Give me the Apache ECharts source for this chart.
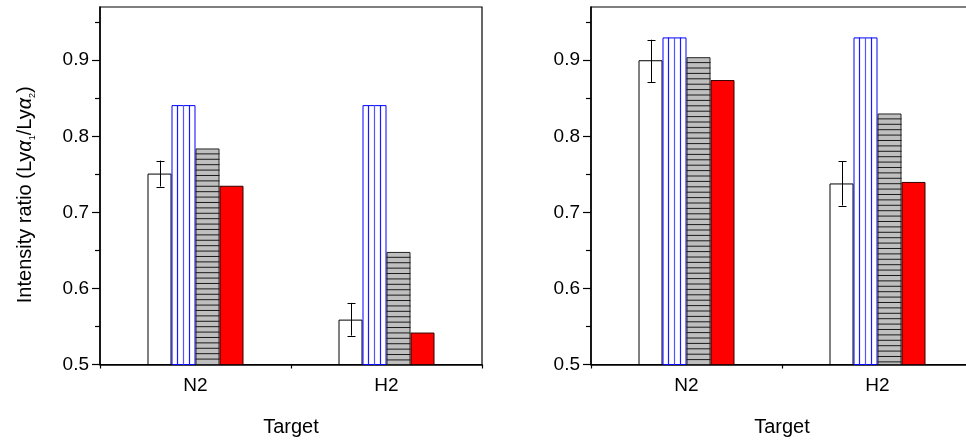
<!DOCTYPE html>
<html><head><meta charset="utf-8">
<script src="https://cdn.jsdelivr.net/npm/echarts@6/dist/echarts.min.js"></script>
<style>html,body{margin:0;padding:0;background:#fff}#c{width:966px;height:441px}</style>
</head><body><div id="c"></div>
<script>
const categories = ['N2', 'H2'];
const yMajorTicks = [0.5, 0.6, 0.7, 0.8, 0.9];
const yMinorTicks = [0.55, 0.65, 0.75, 0.85, 0.95];
const Y_MIN = 0.5, Y_MAX = 0.97;

const leftWhite = [0.751, 0.559];
const leftErrLow = [0.734, 0.538];
const leftErrHigh = [0.768, 0.581];
const leftBlue = [0.841, 0.841];
const leftGray = [0.784, 0.648];
const leftRed = [0.735, 0.542];

const rightWhite = [0.900, 0.738];
const rightErrLow = [0.871, 0.709];
const rightErrHigh = [0.927, 0.767];
const rightBlue = [0.930, 0.930];
const rightGray = [0.904, 0.830];
const rightRed = [0.874, 0.740];

const BAR_W = 24, CAP = 8, V_STEP = 6, H_STEP = 5.4;
const FONT = 'Liberation Sans, Arial, sans-serif';

function errRender(params, api) {
  const x = api.value(0);
  const lo = api.coord([x, api.value(1)]);
  const hi = api.coord([x, api.value(2)]);
  const cx = Math.round(lo[0] - 1.5 * BAR_W) + 0.5;
  const h = CAP / 2;
  const st = { stroke: '#000', lineWidth: 1 };
  return { type: 'group', children: [
    { type: 'line', shape: { x1: cx, y1: lo[1], x2: cx, y2: hi[1] }, style: st },
    { type: 'line', shape: { x1: cx - h, y1: Math.round(lo[1]) + 0.5, x2: cx + h, y2: Math.round(lo[1]) + 0.5 }, style: st },
    { type: 'line', shape: { x1: cx - h, y1: Math.round(hi[1]) + 0.5, x2: cx + h, y2: Math.round(hi[1]) + 0.5 }, style: st }
  ]};
}

// vertical hatch lines inside the blue bars (bar spans [center - BAR_W, center])
function vHatchRender(params, api) {
  const i = api.value(0);
  const base = api.coord([i, Y_MIN]);
  const top = api.coord([i, api.value(1)]);
  const left = base[0] - BAR_W;
  const children = [];
  for (let k = 1; k * V_STEP < BAR_W - 1; k++) {
    const x = left + k * V_STEP;
    children.push({ type: 'line', shape: { x1: x, y1: top[1], x2: x, y2: base[1] },
      style: { stroke: k % 2 ? '#1a1aff' : '#5555ff', lineWidth: 1.2 } });
  }
  return { type: 'group', children };
}
// horizontal hatch lines inside the gray bars (bar spans [center, center + BAR_W])
function hHatchRender(params, api) {
  const i = api.value(0);
  const base = api.coord([i, Y_MIN]);
  const top = api.coord([i, api.value(1)]);
  const left = base[0];
  const children = [];
  for (let y = top[1] + H_STEP; y < base[1] - 1; y += H_STEP) {
    children.push({ type: 'line', shape: { x1: left, y1: y, x2: left + BAR_W, y2: y },
      style: { stroke: '#1a1a1a', lineWidth: 1 } });
  }
  return { type: 'group', children };
}

function xAxes(gi) {
  return [
    { gridIndex: gi, type: 'category', data: categories, position: 'bottom',
      axisLine: { lineStyle: { color: '#000', width: 1.5 } },
      axisTick: { alignWithLabel: true, length: 8, lineStyle: { color: '#000', width: 1.2 } },
      axisLabel: { fontSize: 19, color: '#000', margin: 12, fontFamily: FONT },
      splitLine: { show: false },
      name: 'Target', nameLocation: 'middle', nameGap: 53,
      nameTextStyle: { fontSize: 20, color: '#000', fontFamily: FONT } },
    { gridIndex: gi, type: 'category', data: categories, position: 'bottom',
      axisLine: { show: false },
      axisTick: { show: true, length: 4, lineStyle: { color: '#000', width: 1.2 } },
      axisLabel: { show: false }, splitLine: { show: false } }
  ];
}
function yAxes(gi, withName) {
  const main = { gridIndex: gi, type: 'value', min: Y_MIN, max: Y_MAX, interval: 0.1, position: 'left',
    axisLine: { show: true, lineStyle: { color: '#000', width: 1.5 } },
    axisTick: { show: true, length: 8, customValues: yMajorTicks, lineStyle: { color: '#000', width: 1.2 } },
    axisLabel: { customValues: yMajorTicks, fontSize: 19, color: '#000', margin: 11, fontFamily: FONT,
      formatter: v => v.toFixed(1) },
    splitLine: { show: false } };
  if (withName) {
    main.name = 'Intensity ratio (Ly{a|α}{s|1}/Ly{a|α}{s|2})';
    main.nameLocation = 'middle';
    main.nameGap = 63;
    main.nameTextStyle = { fontSize: 20, lineHeight: 24, color: '#000', fontFamily: FONT, padding: [0, 18, 0, 0],
      rich: {
        a: { fontSize: 20, lineHeight: 24, fontStyle: 'italic', color: '#000', fontFamily: FONT },
        s: { fontSize: 9, lineHeight: 9, verticalAlign: 'bottom', color: '#000', fontFamily: FONT }
      } };
  }
  const minor = { gridIndex: gi, type: 'value', min: Y_MIN, max: Y_MAX, interval: 0.1, position: 'left',
    axisLine: { show: false },
    axisTick: { show: true, length: 5, customValues: yMinorTicks, lineStyle: { color: '#000', width: 1.2 } },
    axisLabel: { show: false }, splitLine: { show: false } };
  return [main, minor];
}

function panelSeries(xi, yi, white, lo, hi, blue, gray, red) {
  const common = { type: 'bar', xAxisIndex: xi, yAxisIndex: yi, barWidth: BAR_W, barGap: '0%' };
  const idx = arr => categories.map((c, i) => [i, arr[i]]);
  return [
    Object.assign({}, common, { data: white, itemStyle: { color: '#ffffff', borderColor: '#000', borderWidth: 1 } }),
    Object.assign({}, common, { data: blue, itemStyle: { color: '#ffffff', borderColor: '#0000ff', borderWidth: 1 } }),
    Object.assign({}, common, { data: gray, itemStyle: { color: '#bfbfbf', borderColor: '#222', borderWidth: 1 } }),
    Object.assign({}, common, { data: red, itemStyle: { color: '#ff0000', borderColor: '#300', borderWidth: 1 } }),
    { type: 'custom', xAxisIndex: xi, yAxisIndex: yi, z: 5, renderItem: vHatchRender,
      encode: { x: 0, y: 1 }, data: idx(blue) },
    { type: 'custom', xAxisIndex: xi, yAxisIndex: yi, z: 5, renderItem: hHatchRender,
      encode: { x: 0, y: 1 }, data: idx(gray) },
    { type: 'custom', xAxisIndex: xi, yAxisIndex: yi, z: 10, renderItem: errRender,
      encode: { x: 0, y: [1, 2] },
      data: categories.map((c, i) => [i, lo[i], hi[i]]) }
  ];
}

const chart = echarts.init(document.getElementById('c'), null, { renderer: 'canvas' });
chart.setOption({
  animation: false,
  backgroundColor: '#fff',
  grid: [
    { left: 100, top: 7, width: 382, height: 357.5, show: true, borderColor: '#000', borderWidth: 1.2, containLabel: false, outerBoundsMode: 'none' },
    { left: 591, top: 7, width: 382, height: 357.5, show: true, borderColor: '#000', borderWidth: 1.2, containLabel: false, outerBoundsMode: 'none' }
  ],
  xAxis: [].concat(xAxes(0), xAxes(1)),
  yAxis: [].concat(yAxes(0, true), yAxes(1, false)),
  series: [].concat(
    panelSeries(0, 0, leftWhite, leftErrLow, leftErrHigh, leftBlue, leftGray, leftRed),
    panelSeries(2, 2, rightWhite, rightErrLow, rightErrHigh, rightBlue, rightGray, rightRed)
  )
});
</script>
</body></html>
